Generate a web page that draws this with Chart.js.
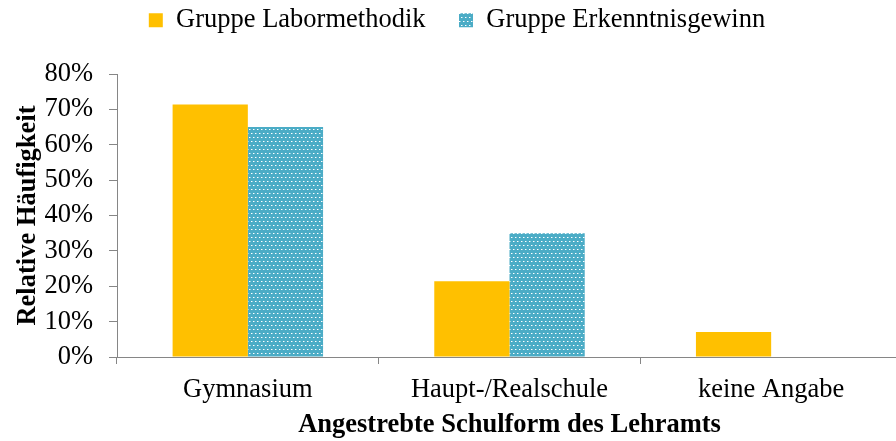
<!DOCTYPE html>
<html>
<head>
<meta charset="utf-8">
<script src="https://cdn.jsdelivr.net/npm/chart.js@4"></script>
<style>
  html, body { margin: 0; padding: 0; background: #fff; overflow: hidden; }
  #wrap { width: 902px; height: 441px; }
</style>
</head>
<body>
<div id="wrap"><canvas id="myChart" width="902" height="441"></canvas></div>
<script>
// Daten aus der Abbildung (relative Häufigkeit in %)
var categories = ["Gymnasium", "Haupt-/Realschule", "keine Angabe"];
var seriesNames = ["Gruppe Labormethodik", "Gruppe Erkenntnisgewinn"];
var laborValues = [71.4, 21.4, 7.1];
var erkenntnisValues = [65.0, 35.0, 0];
var yTicks = [0, 10, 20, 30, 40, 50, 60, 70, 80];

var fontFamily = "'Liberation Serif', 'Times New Roman', serif";
var fontSize = 26.5;

// gepunktetes Muster fuer die zweite Gruppe
function dotPattern(ctx) {
    var c = document.createElement('canvas');
    c.width = 8; c.height = 8;
    var g = c.getContext('2d');
    g.fillStyle = '#4bacc6';
    g.fillRect(0, 0, 8, 8);
    g.fillStyle = '#ffffff';
    g.fillRect(1, 1, 1, 1);
    g.fillRect(5, 1, 1, 1);
    g.fillRect(3, 5, 1, 1);
    g.fillRect(7, 5, 1, 1);
    g.fillStyle = 'rgba(255,255,255,0.45)';
    g.fillRect(2, 1, 1, 1);
    g.fillRect(6, 1, 1, 1);
    g.fillRect(4, 5, 1, 1);
    g.fillRect(0, 5, 1, 1);
    return ctx.createPattern(c, 'repeat');
}

// etwas Abstand unter der Legende
var legendGap = {
    id: 'legendGap',
    beforeInit: function (chart) {
        var fit = chart.legend.fit;
        chart.legend.fit = function () {
            fit.bind(chart.legend)();
            this.height += 30.5;
        };
    }
};

var ctx = document.getElementById('myChart').getContext('2d');

var chart = new Chart(ctx, {
    type: 'bar',
    data: {
        labels: categories,
        datasets: [{
            label: seriesNames[0],
            data: laborValues,
            backgroundColor: '#ffc000',
            borderWidth: 0
        }, {
            label: seriesNames[1],
            data: erkenntnisValues,
            backgroundColor: dotPattern(ctx),
            borderWidth: 0
        }]
    },
    plugins: [legendGap],
    options: {
        responsive: false,
        animation: false,
        devicePixelRatio: 1,
        categoryPercentage: 0.575,
        barPercentage: 1,
        layout: { padding: { left: 12, right: 0, top: -26.5, bottom: 0 } },
        plugins: {
            tooltip: { enabled: false },
            legend: {
                position: 'top',
                labels: {
                    color: '#000',
                    font: { family: fontFamily, size: fontSize },
                    boxWidth: 14,
                    boxHeight: 14,
                    padding: 33.5
                }
            }
        },
        scales: {
            x: {
                offset: true,
                afterFit: function (scale) { scale.height = 84; },
                border: { display: true, color: '#868686', width: 1 },
                grid: { display: true, drawOnChartArea: false, offset: true, tickLength: 7, color: '#868686' },
                ticks: { color: '#000', font: { family: fontFamily, size: fontSize }, padding: 10 },
                title: {
                    display: true,
                    text: 'Angestrebte Schulform des Lehramts',
                    color: '#000',
                    font: { family: fontFamily, size: fontSize, weight: 'bold' },
                    padding: { top: 0, bottom: 0 }
                }
            },
            y: {
                min: 0,
                max: 80,
                afterFit: function (scale) { scale.width = 105; },
                afterBuildTicks: function (axis) {
                    axis.ticks = yTicks.map(function (v) { return { value: v }; });
                },
                border: { display: true, color: '#868686', width: 1 },
                grid: { display: true, drawOnChartArea: false, tickLength: 8, color: '#868686' },
                ticks: {
                    color: '#000',
                    font: { family: fontFamily, size: fontSize },
                    padding: 16,
                    callback: function (v) { return v + '%'; }
                },
                title: {
                    display: true,
                    text: 'Relative Häufigkeit',
                    color: '#000',
                    font: { family: fontFamily, size: fontSize, weight: 'bold' },
                    padding: { top: 0, bottom: 0 }
                }
            }
        }
    }
});
</script>
</body>
</html>
